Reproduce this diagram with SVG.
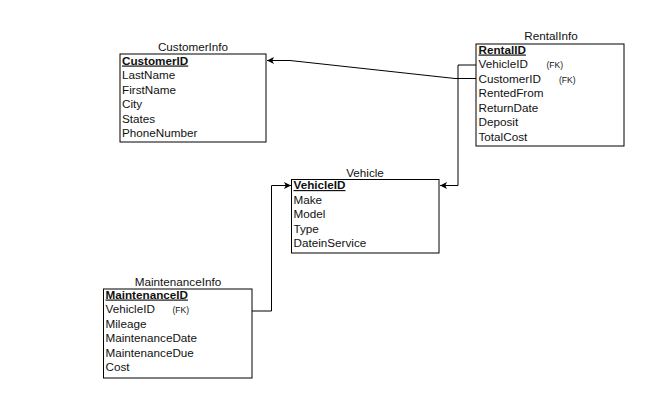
<svg xmlns="http://www.w3.org/2000/svg" width="670" height="414" viewBox="0 0 670 414">
<defs>
<style>
text{font-family:"Liberation Sans",Arial,sans-serif;font-size:11.7px;fill:#111}
.title{text-anchor:middle}
.key{font-weight:bold;text-decoration:underline}
.fk{font-size:8.5px}
.box{fill:#fff;stroke:#000;stroke-width:1}
.conn{fill:none;stroke:#000;stroke-width:1}
</style>
<marker id="arr" viewBox="0 0 10 10" refX="10" refY="5" markerWidth="7" markerHeight="7" markerUnits="userSpaceOnUse" orient="auto">
<path d="M0,0 L10,5 L0,10 L2.5,5 Z" fill="#000"/>
</marker>
</defs>
<rect width="670" height="414" fill="#fff"/>
<g id="connectors">
<path class="conn" d="M476,65 H458 V185.5 H440" marker-end="url(#arr)"/>
<path class="conn" d="M476,78.5 H455 L290,60.5 H267" marker-end="url(#arr)"/>
<path class="conn" d="M252,311 H271.5 V185.5 H291" marker-end="url(#arr)"/>
</g>
<g id="CustomerInfo">
<text class="title" x="193" y="50.5">CustomerInfo</text>
<rect class="box" x="120" y="54" width="146" height="88"/>
<text class="key" x="122" y="64.5">CustomerID</text>
<text x="122" y="79">LastName</text>
<text x="122" y="93.5">FirstName</text>
<text x="122" y="108">City</text>
<text x="122" y="122.5">States</text>
<text x="122" y="137">PhoneNumber</text>
</g>
<g id="RentalInfo">
<text class="title" x="551" y="40">RentalInfo</text>
<rect class="box" x="476" y="44" width="148" height="102"/>
<text class="key" x="478.5" y="53.5">RentalID</text>
<text x="478.5" y="68">VehicleID</text>
<text class="fk" x="546.5" y="68">(FK)</text>
<text x="478.5" y="82.5">CustomerID</text>
<text class="fk" x="559" y="82.5">(FK)</text>
<text x="478.5" y="97">RentedFrom</text>
<text x="478.5" y="111.5">ReturnDate</text>
<text x="478.5" y="126">Deposit</text>
<text x="478.5" y="140.5">TotalCost</text>
</g>
<g id="Vehicle">
<text class="title" x="365" y="176.5">Vehicle</text>
<rect class="box" x="291.5" y="179.5" width="147.5" height="73.5"/>
<text class="key" x="293.5" y="189">VehicleID</text>
<text x="293.5" y="203.5">Make</text>
<text x="293.5" y="218">Model</text>
<text x="293.5" y="232.5">Type</text>
<text x="293.5" y="247">DateinService</text>
</g>
<g id="MaintenanceInfo">
<text class="title" x="178" y="286">MaintenanceInfo</text>
<rect class="box" x="103.5" y="289" width="148.5" height="89"/>
<text class="key" x="105.5" y="298.5">MaintenanceID</text>
<text x="105.5" y="313">VehicleID</text>
<text class="fk" x="172.5" y="313">(FK)</text>
<text x="105.5" y="327.5">Mileage</text>
<text x="105.5" y="342">MaintenanceDate</text>
<text x="105.5" y="356.5">MaintenanceDue</text>
<text x="105.5" y="371">Cost</text>
</g>
</svg>
